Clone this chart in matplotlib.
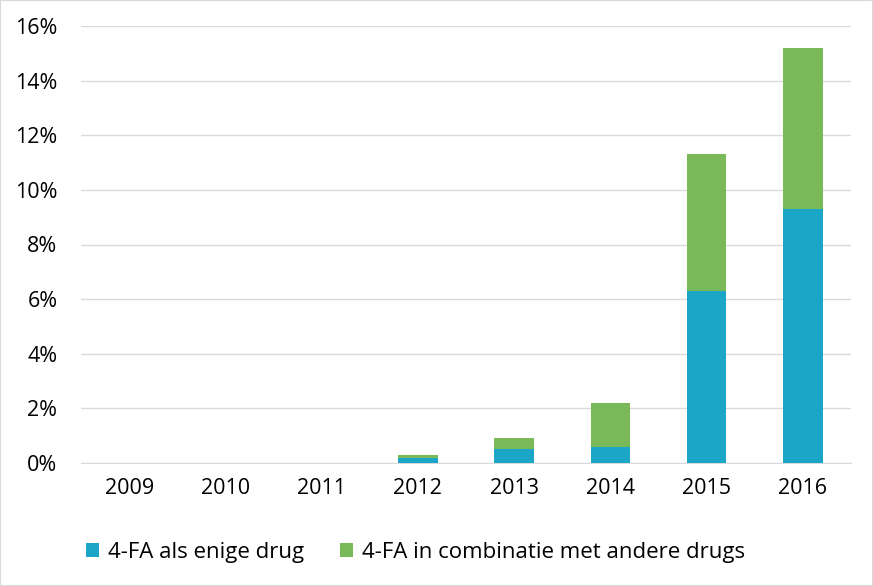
import numpy as np
import matplotlib.pyplot as plt
from matplotlib.ticker import FuncFormatter

years = ['2009', '2010', '2011', '2012', '2013', '2014', '2015', '2016']
alleen = [0, 0, 0, 0.2, 0.5, 0.6, 6.3, 9.3]
combinatie = [0, 0, 0, 0.1, 0.4, 1.6, 5.0, 5.9]

plt.rcParams['font.family'] = ['Open Sans', 'DejaVu Sans']

fig = plt.figure(figsize=(8.73, 5.86), dpi=100)
ax = fig.add_axes([81 / 873, 1 - 463 / 586, 770 / 873, 437 / 586])

x = np.arange(len(years))
ax.bar(x, alleen, width=0.41, color='#1BA5C6', label='4-FA als enige drug', zorder=3)
ax.bar(x, combinatie, width=0.41, bottom=alleen, color='#7AB95A',
       label='4-FA in combinatie met andere drugs', zorder=3)

ax.set_xlim(-0.5, len(years) - 0.5)
ax.set_ylim(0, 16)
ax.set_yticks(np.arange(0, 17, 2))
ax.yaxis.set_major_formatter(FuncFormatter(lambda v, p: f'{v:.0f}%'))
ax.set_xticks(x)
ax.set_xticklabels(years)
ax.grid(axis='y', color='#D9D9D9', linewidth=1, zorder=0)
for s in ['top', 'right', 'left']:
    ax.spines[s].set_visible(False)
ax.spines['bottom'].set_color('#D9D9D9')
ax.tick_params(length=0, labelsize=15.5, colors='black')
ax.tick_params(axis='x', pad=11)
ax.tick_params(axis='y', pad=17)

ax.legend(loc='upper left', bbox_to_anchor=(-0.02, -0.135), ncol=2, frameon=False,
          fontsize=16, handlelength=0.6, handleheight=0.6, columnspacing=1.6,
          handletextpad=0.4)

border = plt.Rectangle((0, 0), 1, 1, transform=fig.transFigure, fill=False,
                       edgecolor='#D9D9D9', linewidth=1.5)
fig.patches.append(border)

fig.savefig('out.png', dpi=100)
